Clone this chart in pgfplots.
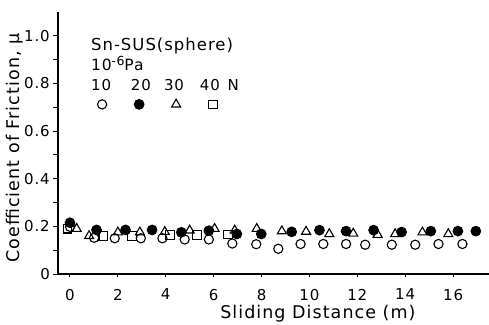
\documentclass[border=0pt]{standalone}
\usepackage{fontspec}
\setmainfont{DejaVu Sans}[LetterSpace=6]
\usepackage{pgfplots}
\pgfplotsset{compat=1.18}
\begin{document}
\begin{tikzpicture}
\path[use as bounding box] (-58pt,-50pt) rectangle (431pt,274pt);
\begin{axis}[
  at={(0pt,0pt)}, anchor=south west,
  width=431pt, height=262pt, scale only axis,
  xmin=-0.5, xmax=17.5, ymin=0, ymax=1.1,
  axis x line*=bottom, axis y line*=left,
  axis line style={line width=1.2pt},
  xtick={0,2,...,16},
  ytick={0,0.2,0.4,0.6,0.8,1.0},
  yticklabels={0,0.2,0.4,0.6,0.8,1.0},
  minor ytick={0.1,0.3,0.5,0.7,0.9},
  tick align=outside,
  major tick length=5pt, minor tick length=5pt,
  xtick style={/pgfplots/major tick length=3pt},
  tick style={line width=1pt, black},
  /pgf/number format/assume math mode=true,
  ticklabel style={font=\fontsize{15}{18}\selectfont, inner sep=0pt},
  xticklabel style={yshift=-9.7pt},
  yticklabel style={xshift=-3pt},
  xlabel={Sliding Distance (m)},
  ylabel={Coefficient of Friction, μ},
  label style={font=\fontsize{17.5}{21}\selectfont},
  xlabel style={at={(axis description cs:0.603,-0.168)}, anchor=base},
  ylabel style={at={(axis description cs:-0.0998,0.481)}, anchor=center},
  clip=false,
  legend style={at={(axis cs:0.583,0.713)}, anchor=west, draw=none, fill=none,
    inner sep=0pt, legend columns=4, column sep=0pt, nodes={inner sep=0pt}},
  mylegend/.style={legend image code/.code={%
    \path[draw=none,fill=none] (-18pt,0pt) (18pt,0pt);
    \draw[##1] plot coordinates {(0pt,0pt)};}},
]
% 10 N
\addplot[only marks, mylegend, mark=o, mark size=4.6pt, line width=1.1pt, black] coordinates {
(0,0.198) (1.01,0.152) (1.87,0.15) (2.96,0.15) (3.86,0.15) (4.79,0.145)
(5.8,0.145) (6.78,0.128) (7.78,0.125) (8.7,0.106) (9.63,0.126) (10.58,0.126)
(11.53,0.126) (12.33,0.123) (13.44,0.123) (14.42,0.123) (15.39,0.126) (16.39,0.126)
};
\addlegendentry{}
% 20 N
\addplot[only marks, mylegend, mark=*, mark size=4.8pt, line width=1.1pt, black, fill=black] coordinates {
(0,0.215) (1.11,0.185) (2.32,0.185) (3.43,0.185) (4.65,0.175) (5.8,0.182)
(6.97,0.168) (7.99,0.168) (9.26,0.177) (10.42,0.184) (11.53,0.18) (12.68,0.184)
(13.85,0.176) (15.07,0.18) (16.2,0.18) (16.95,0.18)
};
\addlegendentry{}
% 30 N
\addplot[only marks, mylegend, mark=triangle, mark size=5.2pt, line width=1.1pt, black] coordinates {
(0.28,0.19) (0.8,0.16) (2.0,0.175) (2.92,0.175) (3.96,0.177) (5.0,0.183)
(6.04,0.19) (6.88,0.183) (7.8,0.19) (8.85,0.18) (9.86,0.178) (10.83,0.168)
(11.83,0.17) (12.85,0.165) (13.58,0.168) (14.72,0.175) (15.8,0.168)
};
\addlegendentry{}
% 40 N
\addplot[only marks, mylegend, mark=square, mark size=4.3pt, line width=1.1pt, black] coordinates {
(-0.1,0.19) (1.39,0.16) (2.6,0.16) (4.17,0.164) (5.3,0.164) (6.6,0.166)
};
\addlegendentry{}
\node[anchor=base west, inner sep=0pt, font=\fontsize{16.5}{20}\selectfont] at (axis cs:0.875,0.94) {Sn-SUS(sphere)};
\node[anchor=base west, inner sep=0pt, font=\fontsize{15.5}{19}\selectfont] at (axis cs:0.875,0.855) {10\kern-0.5pt\raisebox{4.5pt}{\fontsize{12.5}{14}\selectfont -6}Pa};
\node[anchor=base west, inner sep=0pt, font=\fontsize{15}{18}\selectfont] at (axis cs:0.875,0.771) {10};
\node[anchor=base west, inner sep=0pt, font=\fontsize{15}{18}\selectfont] at (axis cs:2.54,0.771) {20};
\node[anchor=base west, inner sep=0pt, font=\fontsize{15}{18}\selectfont] at (axis cs:3.92,0.771) {30};
\node[anchor=base west, inner sep=0pt, font=\fontsize{15}{18}\selectfont] at (axis cs:5.42,0.771) {40};
\node[anchor=base west, inner sep=0pt, font=\fontsize{15}{18}\selectfont] at (axis cs:6.58,0.771) {N};
\end{axis}
\end{tikzpicture}
\end{document}
